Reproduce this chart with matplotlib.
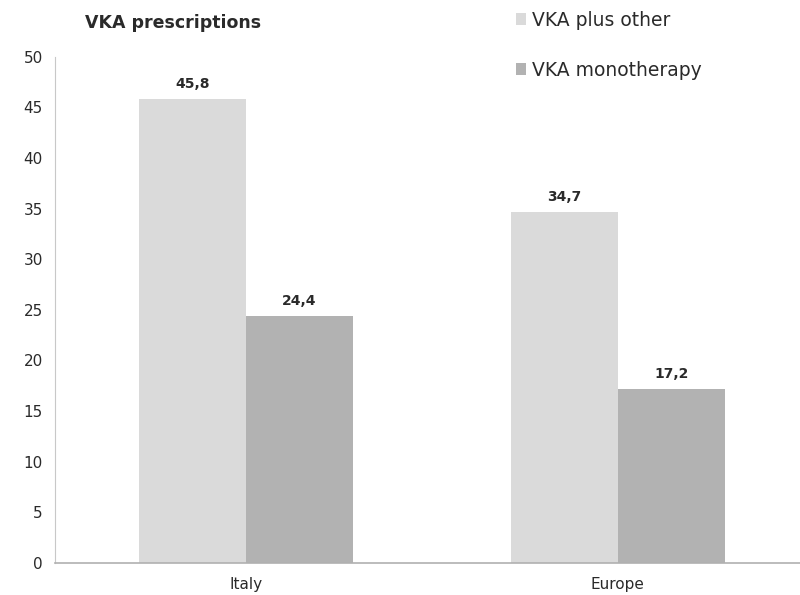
import numpy as np
import matplotlib.pyplot as plt

categories = ["Italy", "Europe"]
plus_other = [45.8, 34.7]
monotherapy = [24.4, 17.2]
series_names = ["VKA plus other", "VKA monotherapy"]

light = "#dadada"
dark = "#b2b2b2"
txt = "#2a2a2a"

fig = plt.figure(figsize=(8, 5.95), dpi=100)
ax = fig.add_axes([0.069, 0.054, 0.931, 0.8504])

x = np.arange(len(categories))
w = 0.288

b1 = ax.bar(x - w / 2, plus_other, w, color=light, label=series_names[0])
b2 = ax.bar(x + w / 2, monotherapy, w, color=dark, label=series_names[1])

# value labels, decimal comma as in the original
for bars, vals in [(b1, plus_other), (b2, monotherapy)]:
    for rect, v in zip(bars, vals):
        ax.annotate(
            f"{v:.1f}".replace(".", ","),
            (rect.get_x() + rect.get_width() / 2, v),
            textcoords="offset points",
            xytext=(0, 8),
            ha="center",
            fontsize=10,
            fontweight="bold",
            color=txt,
        )

ax.set_ylim(0, 50)
ax.set_yticks(range(0, 51, 5))
ax.set_xlim(-0.513, 1.49)
ax.set_xticks(x)
ax.set_xticklabels(categories)
ax.tick_params(length=0, labelsize=11, colors=txt)
ax.tick_params(axis="y", pad=9)
ax.tick_params(axis="x", pad=10)

for s in ["top", "right"]:
    ax.spines[s].set_visible(False)
ax.spines["left"].set_color("#c8c8c8")
ax.spines["bottom"].set_color("#b0b0b0")
ax.spines["bottom"].set_linewidth(1.2)

fig.text(0.106, 0.962, "VKA prescriptions", fontsize=12.5, fontweight="bold",
         color=txt, va="center")

fig.legend(
    loc="upper left",
    bbox_to_anchor=(0.6285, 1.004),
    frameon=False,
    fontsize=13.5,
    handlelength=0.55,
    handleheight=0.55,
    handletextpad=0.3,
    labelspacing=1.65,
    labelcolor=txt,
    borderpad=0.2,
)

fig.savefig("out.png", dpi=100)
